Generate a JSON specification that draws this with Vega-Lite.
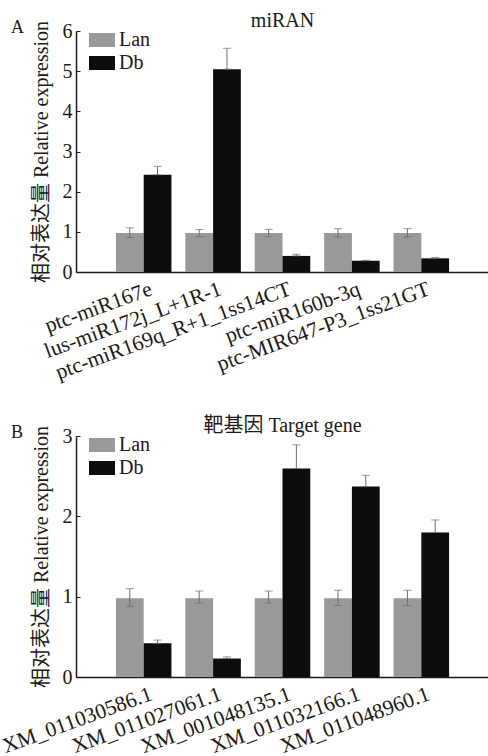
{
  "$schema": "https://vega.github.io/schema/vega-lite/v6.json",
  "padding": {"left": -1, "top": 11, "right": 0, "bottom": 0},
  "background": "white",
  "spacing": 32,
  "resolve": {"scale": {"color": "independent"}, "legend": {"color": "independent"}},
  "config": {
    "view": {"stroke": null},
    "font": "Liberation Serif, Noto Sans CJK SC",
    "axis": {
      "domainColor": "#231815", "domainWidth": 1.5, "tickColor": "#231815",
      "labelColor": "#231815", "titleColor": "#231815",
      "labelFont": "Liberation Serif", "titleFont": "Liberation Serif, Noto Sans CJK SC",
      "labelFontSize": 20, "titleFontSize": 20, "titleFontWeight": "normal", "grid": false
    },
    "title": {"font": "Liberation Serif, Noto Sans CJK SC", "fontWeight": "normal", "color": "#231815"}
  },
  "datasets": {
    "mirna": [
      {"gene": "ptc-miR167e", "group": "Lan", "value": 0.97, "lo": 0.86, "hi": 1.10},
      {"gene": "ptc-miR167e", "group": "Db", "value": 2.42, "lo": 2.42, "hi": 2.63},
      {"gene": "lus-miR172j_L+1R-1", "group": "Lan", "value": 0.97, "lo": 0.88, "hi": 1.06},
      {"gene": "lus-miR172j_L+1R-1", "group": "Db", "value": 5.05, "lo": 5.05, "hi": 5.57},
      {"gene": "ptc-miR169q_R+1_1ss14CT", "group": "Lan", "value": 0.97, "lo": 0.88, "hi": 1.06},
      {"gene": "ptc-miR169q_R+1_1ss14CT", "group": "Db", "value": 0.40, "lo": 0.40, "hi": 0.44},
      {"gene": "ptc-miR160b-3q", "group": "Lan", "value": 0.97, "lo": 0.87, "hi": 1.08},
      {"gene": "ptc-miR160b-3q", "group": "Db", "value": 0.28, "lo": 0.28, "hi": 0.29},
      {"gene": "ptc-MIR647-P3_1ss21GT", "group": "Lan", "value": 0.97, "lo": 0.87, "hi": 1.08},
      {"gene": "ptc-MIR647-P3_1ss21GT", "group": "Db", "value": 0.34, "lo": 0.34, "hi": 0.36}
    ],
    "target": [
      {"gene": "XM_011030586.1", "group": "Lan", "value": 0.98, "lo": 0.88, "hi": 1.10},
      {"gene": "XM_011030586.1", "group": "Db", "value": 0.42, "lo": 0.42, "hi": 0.46},
      {"gene": "XM_011027061.1", "group": "Lan", "value": 0.98, "lo": 0.92, "hi": 1.07},
      {"gene": "XM_011027061.1", "group": "Db", "value": 0.23, "lo": 0.23, "hi": 0.25},
      {"gene": "XM_001048135.1", "group": "Lan", "value": 0.98, "lo": 0.92, "hi": 1.07},
      {"gene": "XM_001048135.1", "group": "Db", "value": 2.595, "lo": 2.595, "hi": 2.89},
      {"gene": "XM_011032166.1", "group": "Lan", "value": 0.98, "lo": 0.89, "hi": 1.08},
      {"gene": "XM_011032166.1", "group": "Db", "value": 2.37, "lo": 2.37, "hi": 2.51},
      {"gene": "XM_011048960.1", "group": "Lan", "value": 0.98, "lo": 0.89, "hi": 1.08},
      {"gene": "XM_011048960.1", "group": "Db", "value": 1.80, "lo": 1.80, "hi": 1.955}
    ]
  },
  "vconcat": [
    {
      "title": {"text": "A", "anchor": "start", "frame": "group", "fontSize": 18, "offset": -26, "dx": -65},
      "vconcat": [
        {
          "width": 413, "height": 241,
          "title": {"text": "miRAN", "anchor": "middle", "fontSize": 20, "offset": -11},
          "data": {"name": "mirna"},
          "encoding": {
            "x": {"field": "gene", "type": "nominal", "sort": null,
                  "scale": {"paddingInner": 0.2, "paddingOuter": 0.575},
                  "axis": {"title": null, "labelAngle": -20, "labelAlign": "right", "labelBaseline": "top",
                           "labelLimit": 400, "labelOverlap": false, "ticks": false, "labelPadding": 6,
                           "labelOffset": 4, "labelFontSize": 21.5}},
            "xOffset": {"field": "group", "type": "nominal", "sort": ["Lan", "Db"],
                        "scale": {"paddingInner": 0, "paddingOuter": 0}}
          },
          "layer": [
            {
              "mark": {"type": "bar"},
              "encoding": {
                "y": {"field": "value", "type": "quantitative", "title": "相对表达量 Relative expression",
                      "scale": {"domain": [0, 6], "nice": false},
                      "axis": {"values": [0, 1, 2, 3, 4, 5, 6], "format": "d", "tickSize": -4, "labelPadding": 8, "titlePadding": 11}},
                "color": {"field": "group", "type": "nominal", "sort": ["Lan", "Db"],
                          "scale": {"domain": ["Lan", "Db"], "range": ["#999999", "#0d0d0d"]},
                          "legend": {"title": null, "orient": "none", "legendX": 13, "legendY": -4, "padding": 0,
                                     "symbolType": "M-1,-0.54H1V0.54H-1Z", "symbolSize": 676,
                                     "symbolStrokeWidth": 0, "symbolOpacity": 1,
                                     "labelFont": "Liberation Serif", "labelFontSize": 20, "labelColor": "#231815",
                                     "labelOffset": 4, "rowPadding": 0}}
              }
            },
            {
              "mark": {"type": "rule", "color": "#6e6e6e", "strokeWidth": 1},
              "encoding": {"y": {"field": "lo", "type": "quantitative", "title": "相对表达量 Relative expression"}, "y2": {"field": "hi"}}
            },
            {
              "mark": {"type": "tick", "color": "#6e6e6e", "thickness": 1, "size": 8},
              "encoding": {"y": {"field": "hi", "type": "quantitative", "title": "相对表达量 Relative expression"}}
            },
            {
              "mark": {"type": "tick", "color": "#6e6e6e", "thickness": 1, "size": 8},
              "encoding": {"y": {"field": "lo", "type": "quantitative", "title": "相对表达量 Relative expression"}}
            }
          ]
        }
      ]
    },
    {
      "title": {"text": "B", "anchor": "start", "frame": "group", "fontSize": 18, "offset": -26, "dx": -65},
      "vconcat": [
        {
          "width": 413, "height": 241,
          "title": {"text": "靶基因 Target gene", "anchor": "middle", "fontSize": 20, "offset": -11},
          "data": {"name": "target"},
          "encoding": {
            "x": {"field": "gene", "type": "nominal", "sort": null,
                  "scale": {"paddingInner": 0.2, "paddingOuter": 0.575},
                  "axis": {"title": null, "labelAngle": -20, "labelAlign": "right", "labelBaseline": "top",
                           "labelLimit": 400, "labelOverlap": false, "ticks": false, "labelPadding": 6,
                           "labelOffset": 4, "labelFontSize": 21.5}},
            "xOffset": {"field": "group", "type": "nominal", "sort": ["Lan", "Db"],
                        "scale": {"paddingInner": 0, "paddingOuter": 0}}
          },
          "layer": [
            {
              "mark": {"type": "bar"},
              "encoding": {
                "y": {"field": "value", "type": "quantitative", "title": "相对表达量 Relative expression",
                      "scale": {"domain": [0, 3], "nice": false},
                      "axis": {"values": [0, 1, 2, 3], "format": "d", "tickSize": -4, "labelPadding": 8, "titlePadding": 11}},
                "color": {"field": "group", "type": "nominal", "sort": ["Lan", "Db"],
                          "scale": {"domain": ["Lan", "Db"], "range": ["#999999", "#0d0d0d"]},
                          "legend": {"title": null, "orient": "none", "legendX": 13, "legendY": -4, "padding": 0,
                                     "symbolType": "M-1,-0.54H1V0.54H-1Z", "symbolSize": 676,
                                     "symbolStrokeWidth": 0, "symbolOpacity": 1,
                                     "labelFont": "Liberation Serif", "labelFontSize": 20, "labelColor": "#231815",
                                     "labelOffset": 4, "rowPadding": 0}}
              }
            },
            {
              "mark": {"type": "rule", "color": "#6e6e6e", "strokeWidth": 1},
              "encoding": {"y": {"field": "lo", "type": "quantitative", "title": "相对表达量 Relative expression"}, "y2": {"field": "hi"}}
            },
            {
              "mark": {"type": "tick", "color": "#6e6e6e", "thickness": 1, "size": 8},
              "encoding": {"y": {"field": "hi", "type": "quantitative", "title": "相对表达量 Relative expression"}}
            },
            {
              "mark": {"type": "tick", "color": "#6e6e6e", "thickness": 1, "size": 8},
              "encoding": {"y": {"field": "lo", "type": "quantitative", "title": "相对表达量 Relative expression"}}
            }
          ]
        }
      ]
    }
  ]
}
